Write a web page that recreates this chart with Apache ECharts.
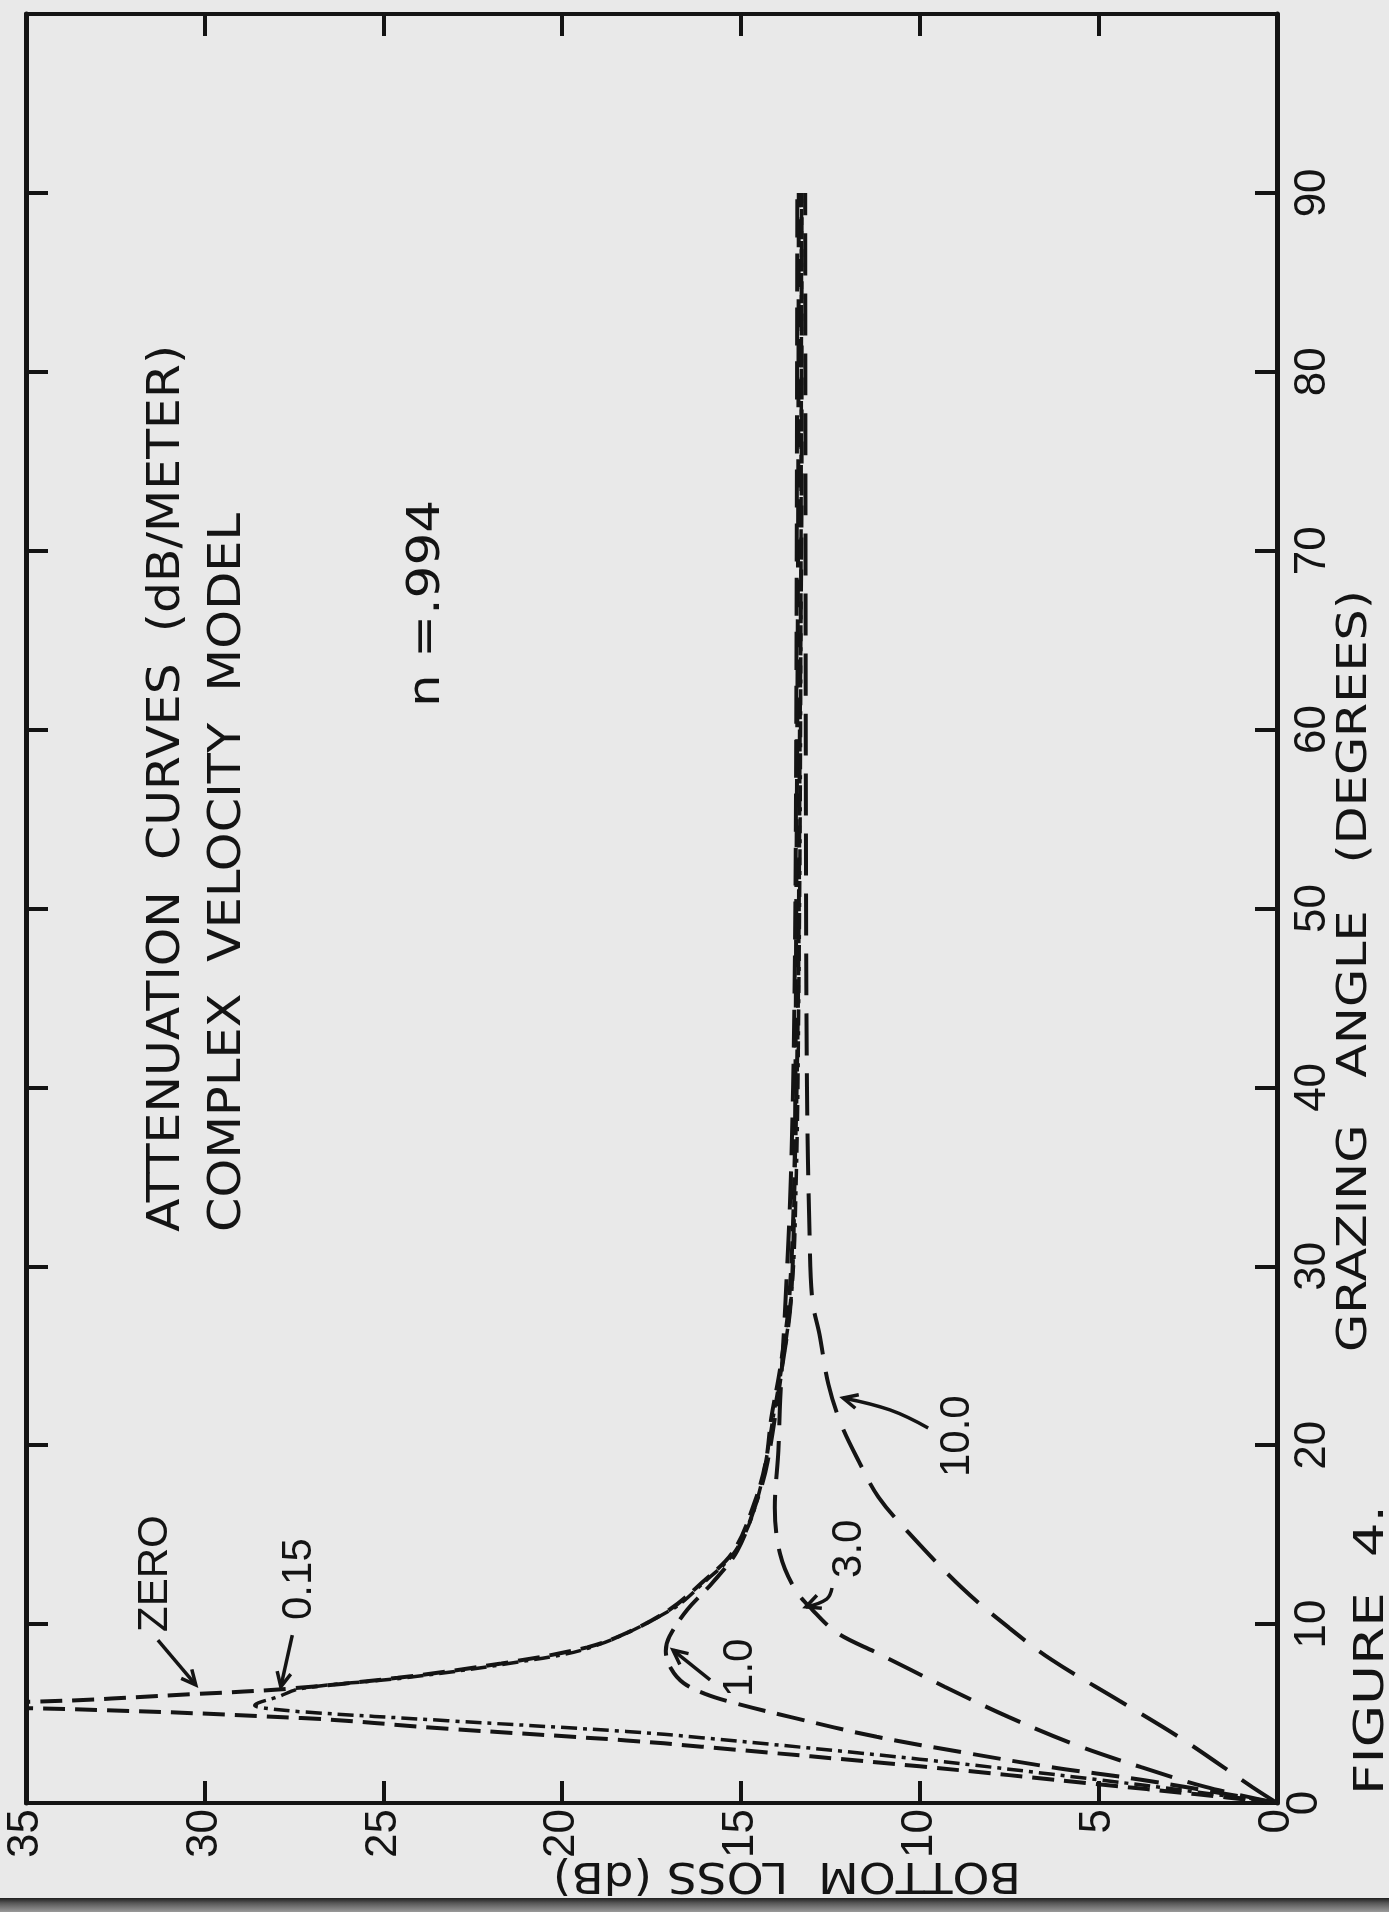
<!DOCTYPE html>
<html><head><meta charset="utf-8">
<script src="https://cdn.jsdelivr.net/npm/echarts@6/dist/echarts.min.js"></script>
<style>html,body{margin:0;padding:0;background:#e9e9e9}#c{width:1389px;height:1912px}</style>
</head><body><div id="c"></div>
<script>
// ---------- data (bottom loss in dB vs grazing angle in degrees) ----------
const lossTicks = [0, 5, 10, 15, 20, 25, 30, 35];
const angleTicks = [0, 10, 20, 30, 40, 50, 60, 70, 80, 90];

const zeroAngle = [0, 0.5, 1.05, 2.05, 3.15, 3.5, 4.15, 4.75, 5.3, 5.47, 5.65, 6.1, 6.4, 7.0, 7.8, 8.7, 9.5, 10.8, 12.3, 14.1, 16.9, 19.1, 21.5, 24.3, 28.1, 35, 45, 60, 75, 90];
const zeroLoss  = [0, 2.3, 5.0, 10.0, 16.1, 18.2, 23.2, 27.3, 35, 45, 35, 30.2, 27.6, 24.6, 21.7, 19.3, 18.2, 17.0, 16.1, 15.2, 14.6, 14.3, 14.15, 13.9, 13.65, 13.5, 13.4, 13.35, 13.3, 13.3];

const a015Angle = [0, 0.6, 1.3, 2.45, 3.65, 4.0, 4.6, 5.1, 5.3, 5.45, 5.6, 5.9, 6.4, 7.0, 7.8, 8.7, 10.8, 12.3, 14.1, 16.9, 21.5, 28.1, 35, 45, 60, 90];
const a015Loss  = [0, 2.2, 5.0, 10.0, 16.1, 18.2, 23.2, 27.3, 28.3, 28.6, 28.5, 28.0, 27.3, 24.4, 21.5, 19.2, 16.95, 16.05, 15.15, 14.55, 14.1, 13.6, 13.45, 13.38, 13.33, 13.3];

const a1Angle = [0, 1.3, 2.0, 2.8, 3.7, 4.8, 5.6, 6.1, 6.7, 7.5, 8.5, 9.3, 10.8, 12.3, 14.1, 16.9, 19.1, 24.3, 28.1, 35, 50, 70, 90];
const a1Loss  = [0, 3.8, 6.3, 8.7, 11.2, 13.6, 15.2, 16.0, 16.6, 16.95, 17.1, 17.0, 16.5, 15.8, 15.1, 14.55, 14.25, 13.85, 13.6, 13.5, 13.45, 13.4, 13.38];

const a3Angle = [0, 0.9, 2.0, 3.3, 4.8, 6.5, 8.4, 9.5, 10.8, 12.0, 13.9, 16.5, 19.7, 22.5, 28.1, 35, 45, 60, 90];
const a3Loss  = [0, 2.0, 3.8, 5.7, 7.5, 9.3, 11.2, 12.3, 13.0, 13.5, 13.9, 14.05, 13.95, 13.9, 13.75, 13.6, 13.5, 13.45, 13.42];

const a10Angle = [0, 0.9, 3.5, 5.7, 8.0, 9.8, 12.0, 15.1, 17.1, 19.1, 21.2, 23.4, 26.2, 28.1, 32, 40, 55, 90];
const a10Loss  = [0, 0.7, 2.6, 4.4, 6.3, 7.5, 8.8, 10.3, 11.15, 11.7, 12.2, 12.55, 12.8, 13.0, 13.08, 13.15, 13.18, 13.2];

const curveNames = ['ZERO', '0.15', '1.0', '3.0', '10.0'];

// curve labels: text start [loss, angle] and arrow points [loss, angle] (tail ... tip)
const labelText  = ['ZERO', '0.15', '1.0', '3.0', '10.0'];
const labelStart = [[31.39, 9.56], [27.34, 10.23], [15.0, 5.93], [11.95, 12.58], [8.95, 18.22]];
const arrowPts = [
  [[31.31, 9.11], [30.25, 6.60]],
  [[27.55, 9.39], [27.87, 6.50]],
  [[15.86, 6.88], [16.9, 8.55]],
  [[12.45, 12.02], [12.6, 11.4], [13.18, 10.96]],
  [[9.76, 20.96], [10.83, 21.97], [12.14, 22.64]]
];

// ---------- chart ----------
const INK = '#141414';
const FONT_NUM = 'Liberation Sans';
const FONT_TXT = 'DejaVu Sans';
const chart = echarts.init(document.getElementById('c'));

function zip(a, l) { return a.map((v, i) => [l[i], v]); }
const curves = [
  {name: curveNames[0], data: zip(zeroAngle, zeroLoss), dash: [22, 10], w: 4},
  {name: curveNames[1], data: zip(a015Angle, a015Loss), dash: [16, 6, 4, 6], w: 3.5},
  {name: curveNames[2], data: zip(a1Angle, a1Loss), dash: [28, 12], w: 4},
  {name: curveNames[3], data: zip(a3Angle, a3Loss), dash: [38, 16], w: 4},
  {name: curveNames[4], data: zip(a10Angle, a10Loss), dash: [42, 18], w: 4}
];

function mkX(pos, labels) {
  return {
    type: 'value', min: lossTicks[0], max: lossTicks[lossTicks.length - 1], interval: 5,
    inverse: true, position: pos,
    axisLine: {show: true, onZero: false, lineStyle: {color: INK, width: 4}},
    axisTick: {show: true, inside: true, length: 22, lineStyle: {color: INK, width: 4}},
    axisLabel: {show: labels, rotate: 90, fontSize: 44, fontFamily: FONT_NUM, color: INK, margin: 6,
      showMinLabel: true, showMaxLabel: true, hideOverlap: false,
      formatter: v => lossTicks.indexOf(v) >= 0 ? String(v) : ''},
    splitLine: {show: false}
  };
}
function mkY(pos, labels) {
  return {
    type: 'value', min: 0, max: 100, interval: 10, position: pos,
    axisLine: {show: true, onZero: false, lineStyle: {color: INK, width: 5}},
    axisTick: {show: true, inside: true, length: 22, lineStyle: {color: INK, width: 4}},
    axisLabel: {show: labels, rotate: 90, fontSize: 44, fontFamily: FONT_NUM, color: INK, margin: 14,
      showMinLabel: true, showMaxLabel: true, hideOverlap: false,
      // the 0 label at the corner is drawn separately below
      formatter: v => (v > 0 && angleTicks.indexOf(v) >= 0) ? String(v) : ''},
    splitLine: {show: false}
  };
}

chart.setOption({
  backgroundColor: '#e9e9e9',
  animation: false,
  grid: {left: 26, right: 112, top: 14, bottom: 109},
  xAxis: [mkX('bottom', true), mkX('top', false)],
  yAxis: [mkY('right', true), mkY('left', false)],
  series: curves.map(c => ({
    name: c.name, type: 'line', xAxisIndex: 0, yAxisIndex: 0,
    data: c.data, showSymbol: false, symbol: 'none', smooth: 0.35, clip: true,
    lineStyle: {color: INK, width: c.w, type: c.dash, cap: 'butt'}
  }))
});

// ---------- text & annotation ----------
const mctx = document.createElement('canvas').getContext('2d');
function width(t, size, fam) { mctx.font = size + 'px "' + fam + '"'; return mctx.measureText(t).width; }
function vtext(t, x, y, size, fam, target, rot, align) {
  const s = target ? target / width(t, size, fam) : 1;
  const al = align || (rot === Math.PI ? 'center' : 'left');
  return {type: 'text', x: x, y: y, rotation: rot === undefined ? Math.PI / 2 : rot, scaleX: s, scaleY: 1, silent: true,
    style: {text: t, fontSize: size, fontFamily: fam, fill: INK,
      align: al, textAlign: al, verticalAlign: 'middle', textVerticalAlign: 'middle'}};
}
const px = p => chart.convertToPixel({xAxisIndex: 0, yAxisIndex: 0}, p);

const g = [];
g.push(vtext('ATTENUATION  CURVES  (dB/METER)', 168, 1232, 44, FONT_TXT, 887));
g.push(vtext('COMPLEX  VELOCITY  MODEL', 229, 1232, 44, FONT_TXT, 719));
g.push(vtext('n =.994', 428, 707, 44, FONT_TXT, 207));
g.push(vtext('GRAZING   ANGLE   (DEGREES)', 1356, 1352, 40, FONT_TXT, 762));
g.push(vtext('FIGURE  4.', 1373, 1795, 40, FONT_TXT, 290));
g.push(vtext('BOTTOM  LOSS (dB)', 787, 1874, 42, FONT_TXT, 468, Math.PI));

// corner label of the grazing-angle axis
const o = px([0, 0]);
g.push(vtext(String(angleTicks[0]), o[0] + 28, o[1], 44, FONT_NUM, null, Math.PI / 2, 'center'));

labelText.forEach((t, i) => {
  const p = px(labelStart[i]);
  g.push(vtext(t, p[0], p[1], 42, FONT_NUM, null));
  const pts = arrowPts[i].map(px);
  g.push({type: 'polyline', silent: true, shape: {points: pts, smooth: pts.length > 2 ? 0.4 : 0},
    style: {stroke: INK, lineWidth: 3.5, fill: null}});
  const a = pts[pts.length - 2], b = pts[pts.length - 1];
  const ang = Math.atan2(b[1] - a[1], b[0] - a[0]);
  const L = 16, sp = 0.45;
  g.push({type: 'polyline', silent: true, shape: {points: [
    [b[0] - L * Math.cos(ang - sp), b[1] - L * Math.sin(ang - sp)], b,
    [b[0] - L * Math.cos(ang + sp), b[1] - L * Math.sin(ang + sp)]]},
    style: {stroke: INK, lineWidth: 3.5, fill: null}});
});

// scan edge at the bottom of the sheet
g.push({type: 'rect', silent: true, shape: {x: 0, y: 1898, width: 1389, height: 14},
  style: {fill: new echarts.graphic.LinearGradient(0, 0, 0, 1, [{offset: 0, color: '#1e1e1e'}, {offset: 0.35, color: '#555'}, {offset: 1, color: '#9a9a9a'}])}});

chart.setOption({graphic: g});
</script></body></html>
